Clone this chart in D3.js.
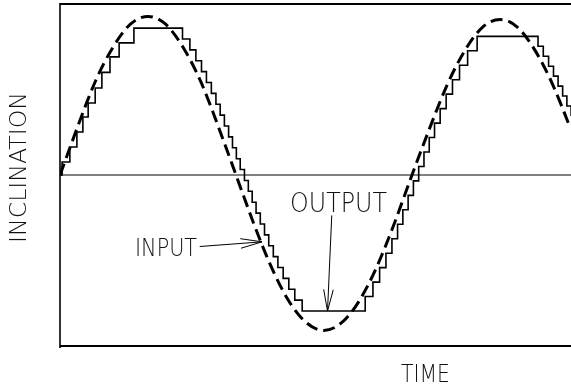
<!DOCTYPE html>
<html>
<head>
<meta charset="utf-8">
<script src="https://cdn.jsdelivr.net/npm/d3@7"></script>
<style>
  body { margin: 0; background: #fff; }
  svg { will-change: transform; }
  text { font-family: "DejaVu Sans", "Liberation Sans", sans-serif; font-weight: 200; fill: #111; }
</style>
</head>
<body>
<svg id="chart"></svg>
<script>
// input (dashed) every half time unit
const inputTime = [0, 0.5, 1, 1.5, 2, 2.5, 3, 3.5, 4, 4.5, 5, 5.5, 6, 6.5, 7, 7.5,
  8, 8.5, 9, 9.5, 10, 10.5, 11, 11.5, 12, 12.5, 13, 13.5, 14, 14.5]
const inputValue = [0, 0.31, 0.6, 0.82, 0.97, 1.02, 0.97, 0.82, 0.6, 0.31, 0, -0.31,
  -0.59, -0.81, -0.95, -1.0, -0.95, -0.81, -0.59, -0.31, 0, 0.3, 0.58, 0.8, 0.95,
  1.0, 0.95, 0.8, 0.58, 0.3]

// output staircase: time of each step and the level it steps to
const outputTime = [0, 0.06, 0.28, 0.48, 0.65, 0.8, 1.0, 1.19, 1.42, 1.68, 2.1,
  3.48, 3.69, 3.86, 4.02, 4.16, 4.3, 4.43, 4.55, 4.67, 4.79, 4.9, 5.01, 5.12, 5.24,
  5.35, 5.46, 5.57, 5.69, 5.81, 5.93, 6.06, 6.19, 6.34, 6.5, 6.67, 6.88,
  8.67, 8.89, 9.08, 9.26, 9.43, 9.59, 9.74, 9.89, 10.04, 10.19, 10.34, 10.49, 10.64,
  10.8, 10.97, 11.15, 11.35, 11.58, 11.85,
  13.58, 13.73, 13.88, 14.02, 14.15, 14.28, 14.4, 14.52]
const outputLevel = [0, 0.084, 0.18, 0.277, 0.373, 0.463, 0.56, 0.66, 0.76, 0.85, 0.945,
  0.875, 0.805, 0.735, 0.665, 0.595, 0.525, 0.455, 0.385, 0.315, 0.245, 0.175, 0.105,
  0.035, -0.035, -0.105, -0.175, -0.245, -0.315, -0.385, -0.455, -0.525, -0.595,
  -0.665, -0.735, -0.805, -0.875,
  -0.782, -0.689, -0.596, -0.503, -0.41, -0.317, -0.224, -0.131, -0.038, 0.055, 0.148,
  0.241, 0.334, 0.427, 0.52, 0.613, 0.706, 0.799, 0.892,
  0.828, 0.764, 0.7, 0.636, 0.572, 0.508, 0.444, 0.38]

const width = 571
const height = 390

const svg = d3.select("#chart")
    .attr("width", width)
    .attr("height", height)

const x = d3.scaleLinear().domain([0, 14.5]).range([60, 570.4])
const y = d3.scaleLinear().domain([-1.1, 1.1]).range([346, 4])

svg.append("defs").append("clipPath")
    .attr("id", "plot")
    .append("rect")
    .attr("x", x(0)).attr("y", 0)
    .attr("width", width - x(0)).attr("height", height)

// frame: top, left, bottom, and the zero line
svg.append("line")
    .attr("x1", x(0)).attr("x2", width).attr("y1", y(1.1)).attr("y2", y(1.1))
    .attr("stroke", "#000").attr("stroke-width", 2)
svg.append("line")
    .attr("x1", x(0)).attr("x2", x(0)).attr("y1", y(1.1) - 1).attr("y2", y(-1.1) + 2)
    .attr("stroke", "#000").attr("stroke-width", 1.6)
svg.append("line")
    .attr("x1", x(0)).attr("x2", width).attr("y1", y(-1.1)).attr("y2", y(-1.1))
    .attr("stroke", "#000").attr("stroke-width", 2)
svg.append("line")
    .attr("x1", x(0)).attr("x2", width).attr("y1", y(0)).attr("y2", y(0))
    .attr("stroke", "#000").attr("stroke-width", 1)

const inputData = inputTime.map((t, i) => ({t: t, v: inputValue[i]}))
const outputData = outputTime.map((t, i) => ({t: t, v: outputLevel[i]}))

const inputLine = d3.line()
    .x(d => x(d.t))
    .y(d => y(d.v))
    .curve(d3.curveNatural)

const outputLine = d3.line()
    .x(d => x(d.t))
    .y(d => y(d.v))
    .curve(d3.curveStepAfter)

svg.append("path")
    .datum(outputData)
    .attr("clip-path", "url(#plot)")
    .attr("d", outputLine)
    .attr("fill", "none")
    .attr("stroke", "#000")
    .attr("stroke-width", 1.6)

svg.append("path")
    .datum(inputData)
    .attr("clip-path", "url(#plot)")
    .attr("d", inputLine)
    .attr("fill", "none")
    .attr("stroke", "#000")
    .attr("stroke-width", 3)
    .attr("stroke-dasharray", "12 6")

// arrows for the two labels
function arrow(x1, y1, x2, y2) {
    const a = Math.atan2(y2 - y1, x2 - x1)
    const len = 22, spread = 0.22
    const p = `M${x1},${y1}L${x2},${y2}` +
        `M${x2 - len * Math.cos(a - spread)},${y2 - len * Math.sin(a - spread)}L${x2},${y2}` +
        `L${x2 - len * Math.cos(a + spread)},${y2 - len * Math.sin(a + spread)}`
    svg.append("path")
        .attr("d", p)
        .attr("fill", "none")
        .attr("stroke", "#000")
        .attr("stroke-width", 1)
}

arrow(x(7.72), y(-0.26), x(7.6), y(-0.875))
arrow(x(3.97), y(-0.46), x(5.74), y(-0.43))

svg.append("text")
    .attr("x", 290).attr("y", 212)
    .attr("font-size", 26)
    .attr("textLength", 97)
    .attr("lengthAdjust", "spacingAndGlyphs")
    .text("OUTPUT")

svg.append("text")
    .attr("x", 135).attr("y", 256)
    .attr("font-size", 25)
    .attr("textLength", 62)
    .attr("lengthAdjust", "spacingAndGlyphs")
    .text("INPUT")

svg.append("text")
    .attr("x", 401).attr("y", 382)
    .attr("font-size", 25)
    .attr("textLength", 49)
    .attr("lengthAdjust", "spacingAndGlyphs")
    .text("TIME")

svg.append("text")
    .attr("transform", "translate(26,243) rotate(-90)")
    .attr("font-size", 23)
    .attr("textLength", 151)
    .attr("lengthAdjust", "spacingAndGlyphs")
    .text("INCLINATION")
</script>
</body>
</html>
